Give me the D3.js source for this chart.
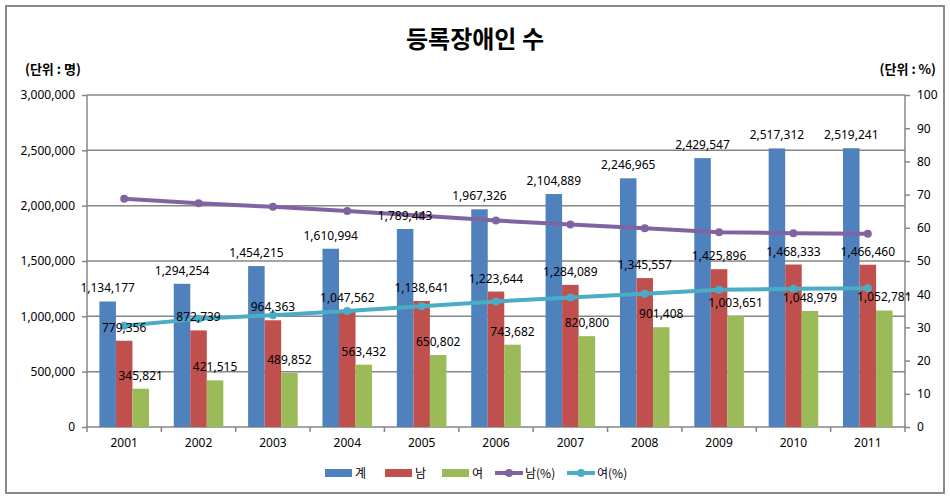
<!DOCTYPE html>
<html><head><meta charset="utf-8">
<script src="https://cdn.jsdelivr.net/npm/d3@7"></script>
<style>body{margin:0;background:#fff}svg{display:block}</style>
</head><body><svg id="c" width="950" height="504"></svg>
<script>
const years = ["2001","2002","2003","2004","2005","2006","2007","2008","2009","2010","2011"];
const total = [1134177,1294254,1454215,1610994,1789443,1967326,2104889,2246965,2429547,2517312,2519241];
const male = [779356,872739,964363,1047562,1138641,1223644,1284089,1345557,1425896,1468333,1466460];
const female = [345821,421515,489852,563432,650802,743682,820800,901408,1003651,1048979,1052781];
const malePct = [68.72,67.43,66.32,65.03,63.63,62.20,61.00,59.88,58.69,58.33,58.21];
const femalePct = [30.49,32.57,33.68,34.97,36.37,37.80,39.00,40.12,41.31,41.67,41.79];
const leftTicks = [0,500000,1000000,1500000,2000000,2500000,3000000];
const rightTicks = [0,10,20,30,40,50,60,70,80,90,100];
const barSeries = [{name:"계",vals:total,color:"#4F81BD"},{name:"남",vals:male,color:"#C0504D"},{name:"여",vals:female,color:"#9BBB59"}];
const lineSeries = [{name:"남(%)",vals:malePct,color:"#8064A2"},{name:"여(%)",vals:femalePct,color:"#4BACC6"}];

const svg = d3.select("#c");
const L=87,R=905,T=95,B=427;
const font='"Noto Sans", "Noto Sans CJK KR", sans-serif';
const kfont='"Noto Sans CJK KR", "Noto Sans", sans-serif';

svg.append("rect").attr("x",6).attr("y",6).attr("width",938).attr("height",487).attr("fill","#fff").attr("stroke","#8a8a8a").attr("stroke-width",2);

const x = d3.scaleBand().domain(years).range([L,R]).padding(0);
const bw = x.bandwidth();
const x1 = d3.scaleBand().domain(barSeries.map(d=>d.name)).range([bw/6,bw*5/6]).padding(0);
const y = d3.scaleLinear().domain([0,3000000]).range([B,T]);
const y2 = d3.scaleLinear().domain([0,100]).range([B,T]);

// gridlines
svg.append("g").selectAll("line").data(leftTicks.slice(1)).join("line")
  .attr("x1",L).attr("x2",R).attr("y1",d=>y(d)).attr("y2",d=>y(d))
  .attr("stroke","#868686").attr("stroke-width",1.5);

// axes
const fmt = d3.format(",");
const gl = svg.append("g").attr("transform",`translate(${L},0)`)
  .call(d3.axisLeft(y).tickValues(leftTicks).tickFormat(d=>fmt(d)).tickSize(5).tickPadding(7));
const gr = svg.append("g").attr("transform",`translate(${R},0)`)
  .call(d3.axisRight(y2).tickValues(rightTicks).tickSize(5).tickPadding(7));
const gx = svg.append("g").attr("transform",`translate(0,${B})`)
  .call(d3.axisBottom(x).tickSize(0).tickPadding(14));
// category boundary ticks
svg.append("g").selectAll("line").data(years.concat(["end"])).join("line")
  .attr("x1",(d,i)=>L+i*bw).attr("x2",(d,i)=>L+i*bw).attr("y1",B).attr("y2",B+5)
  .attr("stroke","#868686").attr("stroke-width",1.5);
[gl,gr,gx].forEach(g=>{
  g.selectAll(".domain").attr("stroke","#868686").attr("stroke-width",1.5);
  g.selectAll(".tick line").attr("stroke","#868686").attr("stroke-width",1.5);
  g.selectAll("text").attr("font-family",font).attr("font-size",12).attr("fill","#000");
});
gl.select(".domain").attr("d",`M0,${B}V${T}`);
gr.select(".domain").attr("d",`M0,${B}V${T}`);
gx.select(".domain").attr("d",`M${L},0H${R}`);
gx.selectAll("text").attr("dy","0.5em");

// bars
const bars = svg.append("g");
barSeries.forEach(s=>{
  bars.selectAll(null).data(s.vals).join("rect")
    .attr("x",(d,i)=>x(years[i])+x1(s.name)).attr("width",x1.bandwidth())
    .attr("y",d=>y(d)).attr("height",d=>B-y(d)).attr("fill",s.color);
});

// lines
lineSeries.forEach(s=>{
  const line = d3.line().x((d,i)=>x(years[i])+bw/2).y(d=>y2(d));
  svg.append("path").datum(s.vals).attr("d",line).attr("fill","none")
    .attr("stroke",s.color).attr("stroke-width",4).attr("stroke-linejoin","round");
  svg.append("g").selectAll("circle").data(s.vals).join("circle")
    .attr("cx",(d,i)=>x(years[i])+bw/2).attr("cy",d=>y2(d)).attr("r",4).attr("fill",s.color);
});

// data labels
barSeries.forEach(s=>{
  svg.append("g").selectAll("text").data(s.vals).join("text")
    .attr("x",(d,i)=>x(years[i])+x1(s.name)+x1.bandwidth()/2)
    .attr("y",d=>y(d)-9)
    .attr("text-anchor","middle").attr("font-family",font).attr("font-size",12).attr("fill","#000")
    .text(d=>fmt(d));
});

// title and units
svg.append("text").attr("x",475).attr("y",48).attr("text-anchor","middle")
  .attr("font-family",kfont).attr("font-weight","bold").attr("font-size",24).text("등록장애인 수");
svg.append("text").attr("x",25).attr("y",74).attr("font-family",kfont).attr("font-weight","bold").attr("font-size",13).text("(단위 : 명)");
svg.append("text").attr("x",936).attr("y",74).attr("text-anchor","end").attr("font-family",kfont).attr("font-weight","bold").attr("font-size",13).text("(단위 : %)");

// legend
const lg = svg.append("g");
const items = [
  {t:"bar",s:barSeries[0],x:325},{t:"bar",s:barSeries[1],x:385},{t:"bar",s:barSeries[2],x:442},
  {t:"line",s:lineSeries[0],x:495},{t:"line",s:lineSeries[1],x:567}];
items.forEach(it=>{
  const ly=473;
  if(it.t==="bar"){
    lg.append("rect").attr("x",it.x).attr("y",ly-4).attr("width",27).attr("height",8).attr("fill",it.s.color);
  } else {
    lg.append("line").attr("x1",it.x).attr("x2",it.x+28).attr("y1",ly).attr("y2",ly).attr("stroke",it.s.color).attr("stroke-width",4);
    lg.append("circle").attr("cx",it.x+14).attr("cy",ly).attr("r",4).attr("fill",it.s.color);
  }
  lg.append("text").attr("x",it.x+30).attr("y",ly+4.5).attr("font-family",kfont).attr("font-size",12).attr("fill","#000").text(it.s.name);
});
</script></body></html>
